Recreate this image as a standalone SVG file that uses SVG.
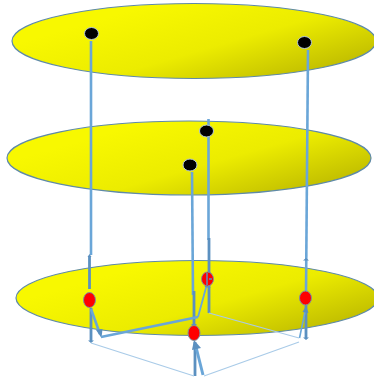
<svg xmlns="http://www.w3.org/2000/svg" width="374" height="381" viewBox="0 0 374 381">
<style>
.disc{fill:url(#g);stroke:#5f8aa8;stroke-width:1.2}
.blk{fill:#000;stroke:#b5c8d8;stroke-width:1}
.red{fill:#f00;stroke:#7f8f9f;stroke-width:1}
.l{fill:none;stroke:#6aa6d8;stroke-width:2.6}
.d{fill:none;stroke:#5b90c0;stroke-width:2.8}
.t{fill:none;stroke:#a9cbe8;stroke-width:1.2}
.m{fill:none;stroke:#6aa6d8;stroke-width:2.6}
.h{fill:#5b90c0}
</style>
<defs>
<linearGradient id="g" x1="-0.2" y1="0" x2="1.2" y2="1">
<stop offset="0.28" stop-color="#f8f800"/>
<stop offset="0.55" stop-color="#ecec00"/>
<stop offset="0.88" stop-color="#b4b000"/>
</linearGradient>
</defs>
<g id="disc-top"><ellipse class="disc" cx="194" cy="41" rx="182" ry="37.500"/></g>
<g id="disc-middle"><ellipse class="disc" cx="189" cy="158" rx="182" ry="37"/></g>
<g id="disc-bottom"><ellipse class="disc" cx="197" cy="298" rx="181" ry="37.500"/></g>
<g id="connectors">
<path class="l" d="M91 41V255"/>
<path class="l" d="M308 50L306 292"/>
<path class="l" d="M192 172L193 295"/>
<path class="l" d="M208.500 119V240"/>
<path class="d" d="M89.500 256V289"/>
<path class="d" d="M209 238V313"/>
<path class="d" d="M194 291V325"/>
<path class="d" d="M91 308V341"/>
<path class="d" d="M306 305V338"/>
<path class="d" d="M195 342V376"/>
<path class="h" d="M89.500 254l2 3h-4zM306 258l3 2.500h-6zM91 343l-3-2.500h6zM306 340l-3-2.500h6zM194 327l-3-3h6zM209 271l3 3h-6z"/>
<path class="m" d="M91 309L100 334"/>
<path class="h" d="M101.500 338L96 330l6.500-1z"/>
<path class="m" d="M101 337L198 317"/>
<path class="m" style="stroke-width:1.800" d="M198 317L207 284"/>
<path class="h" d="M208 281L210.500 288L204.500 287z"/>
<path class="m" style="stroke-width:1.600" d="M299.500 338L305 312"/>
<path class="h" d="M306 306L308.500 313L302.500 312z"/>
<path d="M203 375L195.500 345" fill="none" stroke="#6aa6d8" stroke-width="3"/>
<path class="h" d="M194 340L201 348L192 350z"/>
<path class="t" d="M91 343L194 376"/>
<path class="t" d="M204 376L299 342"/>
<path class="t" d="M209 313L299 338"/>
</g>
<g id="node-t1"><ellipse class="blk" cx="91.500" cy="33.500" rx="7" ry="6"/></g>
<g id="node-t2"><ellipse class="blk" cx="304.500" cy="42.500" rx="7" ry="6"/></g>
<g id="node-m1"><ellipse class="blk" cx="206.500" cy="131" rx="7" ry="6"/></g>
<g id="node-m2"><ellipse class="blk" cx="190" cy="165" rx="7" ry="6"/></g>
<g id="node-b1"><ellipse class="red" cx="89.500" cy="300" rx="6" ry="7.500"/></g>
<g id="node-b2"><ellipse class="red" cx="207.500" cy="279" rx="6" ry="7"/></g>
<g id="node-b3"><ellipse class="red" cx="305.500" cy="298" rx="6" ry="7"/></g>
<g id="node-b4"><ellipse class="red" cx="194" cy="333" rx="6" ry="7.500"/></g>
<path d="M207 273V285M209 279H212" fill="none" stroke="#5b90c0" stroke-width="1.500"/>
</svg>
